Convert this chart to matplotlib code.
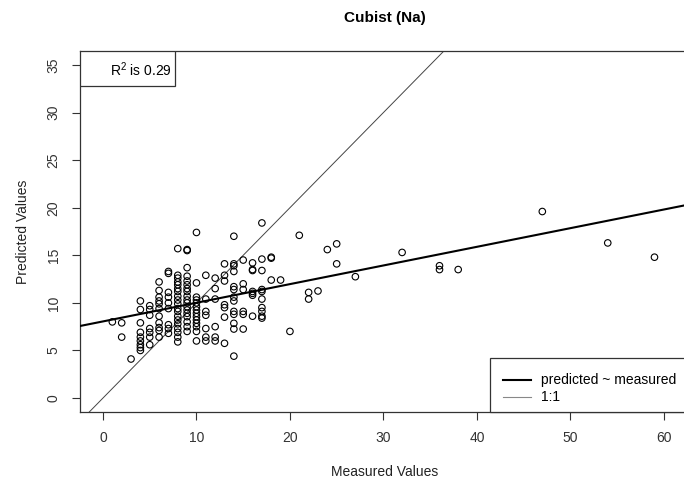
import matplotlib
matplotlib.use('Agg')
import numpy as np
import matplotlib.pyplot as plt
from matplotlib.patches import Rectangle

plt.rcParams['font.family'] = ['Liberation Sans', 'DejaVu Sans']

# measured values (integer levels) and the predicted values seen at each level
measured_levels = [1, 2, 3, 4, 5, 6, 7, 8, 9, 10, 11, 12, 13, 14, 15, 16, 17,
                   18, 19, 20, 21, 22, 23, 24, 25, 27, 32, 36, 38, 47, 54, 59]
predicted_at_level = [
    [8.0],
    [7.9, 6.4],
    [4.1],
    [10.2, 9.3, 7.9, 6.9, 6.4, 6.0, 5.6, 5.3, 5.0],
    [9.7, 9.3, 8.7, 7.3, 6.9, 6.4, 5.6],
    [12.2, 11.3, 10.6, 10.2, 9.9, 9.4, 8.6, 7.9, 7.4, 7.1, 6.4],
    [13.3, 13.1, 11.1, 10.6, 10.0, 9.4, 7.7, 7.3, 6.8],
    [15.7, 12.9, 12.6, 12.2, 11.9, 11.5, 11.2, 10.7, 10.3, 9.9, 9.4, 9.1,
     8.6, 8.2, 7.8, 7.3, 6.9, 6.4, 5.9],
    [15.6, 15.5, 13.7, 12.8, 12.3, 11.9, 11.5, 11.2, 10.7, 10.3, 10.0, 9.6,
     9.25, 8.9, 8.55, 8.0, 7.5, 7.0],
    [17.4, 12.1, 10.6, 10.3, 10.0, 9.6, 9.25, 8.9, 8.55, 8.2, 7.85, 7.5, 7.0, 6.0],
    [12.9, 10.4, 9.1, 8.7, 7.3, 6.4, 6.0],
    [12.6, 11.5, 10.4, 7.5, 6.4, 6.0],
    [14.1, 12.9, 12.3, 9.8, 9.5, 8.5, 5.75],
    [17.0, 14.1, 13.9, 13.3, 11.7, 11.4, 10.6, 10.2, 9.1, 8.8, 7.85, 7.25, 4.4],
    [14.5, 12.0, 11.4, 9.1, 8.8, 7.25],
    [14.2, 13.5, 13.4, 11.2, 11.0, 10.8, 8.6],
    [18.4, 14.6, 13.4, 11.4, 11.2, 10.4, 9.5, 9.1, 8.6, 8.4],
    [14.8, 14.7, 12.4],
    [12.4],
    [7.0],
    [17.1],
    [11.1, 10.4],
    [11.25],
    [15.6],
    [16.2, 14.1],
    [12.75],
    [15.3],
    [13.9, 13.5],
    [13.5],
    [19.6],
    [16.3],
    [14.8],
]

# lm(predicted ~ measured)
fit_intercept = 8.05
fit_slope = 0.196
r2_value = 0.29

x_ticks = [0, 10, 20, 30, 40, 50, 60]
y_ticks = [0, 5, 10, 15, 20, 25, 30, 35]
legend_labels = ['predicted ~ measured', '1:1']

measured = np.concatenate([[m] * len(p) for m, p in zip(measured_levels, predicted_at_level)])
predicted = np.concatenate(predicted_at_level)

fig = plt.figure(figsize=(6.84, 4.88), dpi=100)
ax = fig.add_axes([80 / 684, 76 / 488, 610 / 684, 361 / 488])
ax.set_xlim(-2.46, 62.8)
ax.set_ylim(-1.47, 36.47)

ax.scatter(measured, predicted, s=22, facecolors='none', edgecolors='black', linewidths=0.8, zorder=3)

xs = np.array([-5, 70])
ax.plot(xs, fit_intercept + fit_slope * xs, color='black', lw=1.5, zorder=4)
ax.plot(xs, xs, color='#444444', lw=0.7, zorder=2)

ax.set_xticks(x_ticks)
ax.set_yticks(y_ticks)
ax.tick_params(direction='out', length=6, width=0.8, colors='#333333', labelsize=10, pad=8)
for lbl in ax.get_yticklabels():
    lbl.set_rotation(90)
    lbl.set_va('center')
for s in ax.spines.values():
    s.set_color('#333333')
    s.set_linewidth(0.9)

ax.set_xlabel('Measured Values', fontsize=10, color='#222222', labelpad=14)
ax.set_ylabel('Predicted Values', fontsize=10, color='#222222', labelpad=12)
ax.set_title('Cubist (Na)', fontsize=11, fontweight='bold', pad=21)

# R^2 box in the top left corner
ax.add_patch(Rectangle((0, 1), 95 / 610, -35 / 361, transform=ax.transAxes,
                       facecolor='white', edgecolor='#333333', lw=0.9, zorder=5))
ax.text(92 / 610, 1 - 19 / 361, '$\\mathregular{R^2}$ is %.2f' % r2_value,
        transform=ax.transAxes, ha='right', va='center', fontsize=10, zorder=6)

# legend box drawn by hand, R style, running off the right edge
px = lambda x, y: ((x - 80) / 610, (412 - y) / 361)
ax.add_patch(Rectangle(px(490, 412), 220 / 610, 54 / 361, transform=ax.transAxes,
                       facecolor='white', edgecolor='#333333', lw=0.9, zorder=5, clip_on=False))
for row_y, col, lw, lab in [(380, 'black', 1.5, legend_labels[0]), (397, '#888888', 0.8, legend_labels[1])]:
    x0, yy = px(503, row_y)
    x1, _ = px(531, row_y)
    ax.plot([x0, x1], [yy, yy], color=col, lw=lw, transform=ax.transAxes, zorder=6, clip_on=False)
    tx, _ = px(541, row_y)
    ax.text(tx, yy, lab, transform=ax.transAxes, ha='left', va='center', fontsize=10, zorder=6)

fig.savefig('out.png', dpi=100)
